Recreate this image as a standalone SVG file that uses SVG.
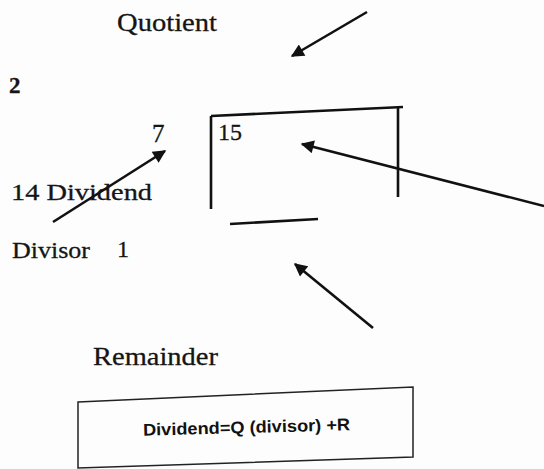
<svg xmlns="http://www.w3.org/2000/svg" width="544" height="469" viewBox="0 0 544 469">
<defs>
<style>
.t{font-family:"Liberation Serif","DejaVu Serif",serif;fill:#151515;stroke:#151515;stroke-width:0.3}
.ln{stroke:#111;stroke-width:2.6;fill:none}
.ar{stroke:#111;stroke-width:2.6;fill:none;marker-end:url(#ah)}
</style>
<marker id="ah" viewBox="0 0 10 10" refX="9" refY="5" markerWidth="5.5" markerHeight="5" orient="auto" markerUnits="strokeWidth">
<path d="M0,0 L10,5 L0,10 z" fill="#111"/>
</marker>
</defs>
<rect width="544" height="469" fill="#fdfdfd"/>
<g id="quotient"><text class="t" x="117" y="31" font-size="26" textLength="100" lengthAdjust="spacingAndGlyphs">Quotient</text></g>
<g id="two"><text class="t" x="9" y="93" font-size="23" font-weight="bold">2</text></g>
<g id="seven"><text class="t" x="152" y="142" font-size="25">7</text></g>
<g id="division">
<path class="ln" d="M211,116 L403,107"/>
<path class="ln" d="M211,116 L211,209"/>
<path class="ln" d="M398,107 L398,197"/>
<path class="ln" d="M230,224 L318,219"/>
<text class="t" x="218" y="140" font-size="24">15</text>
</g>
<g id="dividend"><text class="t" x="11" y="200" font-size="24" textLength="141" lengthAdjust="spacingAndGlyphs">14 Dividend</text></g>
<g id="divisor"><text class="t" x="12" y="258" font-size="24" textLength="78" lengthAdjust="spacingAndGlyphs">Divisor</text><text class="t" x="117" y="257" font-size="24">1</text></g>
<g id="remainder"><text class="t" x="93" y="365" font-size="26" textLength="125" lengthAdjust="spacingAndGlyphs">Remainder</text></g>
<g id="formula">
<polygon points="78,402 413,387 413,457 78,468" fill="none" stroke="#222" stroke-width="1.5"/>
<text x="143" y="433" font-family="'Liberation Sans',Arial,sans-serif" font-weight="bold" font-size="17" fill="#111" textLength="207" lengthAdjust="spacingAndGlyphs" transform="rotate(-1.5 246 427)">Dividend=Q (divisor) +R</text>
</g>
<g id="connectors">
<path class="ar" d="M367,12 L292,56"/>
<path class="ar" d="M544,206 L302,144"/>
<path class="ar" d="M53,222 L165,151"/>
<path class="ar" d="M373,328 L295,264"/>
</g>
</svg>
